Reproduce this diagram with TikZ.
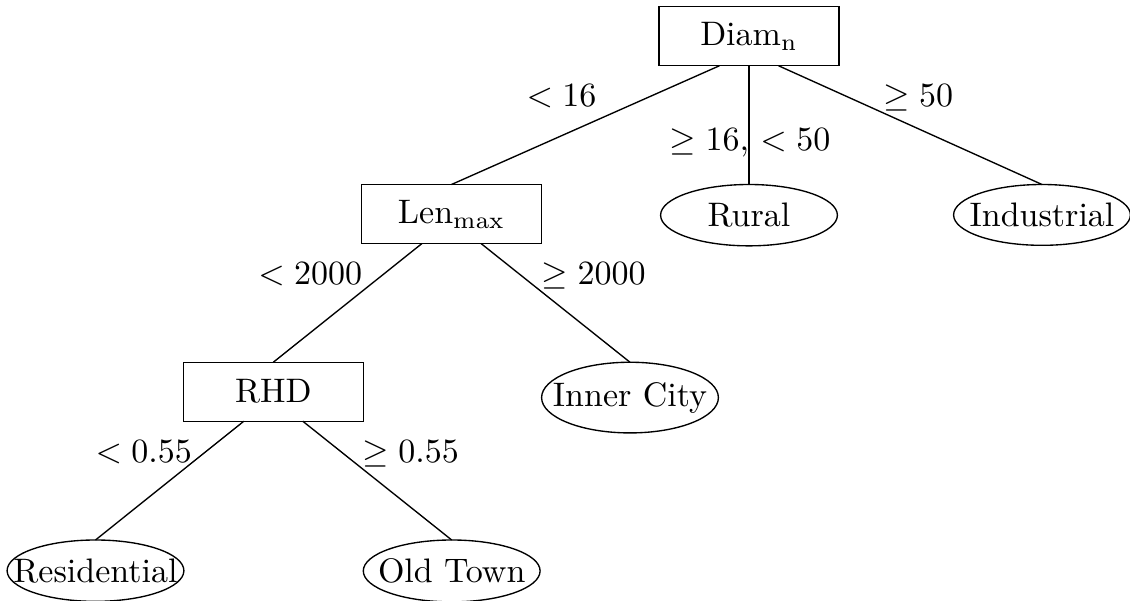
\documentclass[tikz,border=0pt]{standalone}
\usetikzlibrary{shapes.geometric}
\begin{document}
\begin{tikzpicture}[x=0.29412pt, y=-0.29412pt,
  split/.style={draw, rectangle, minimum width=52.9pt, minimum height=17.35pt,
    inner sep=0pt, outer sep=0pt, anchor=north},
  leaf/.style={draw, ellipse, minimum width=52pt, minimum height=17.6pt,
    inner xsep=-6pt, inner ysep=2.8pt, outer sep=0pt, anchor=north},
  cond/.style={anchor=base, inner sep=0pt},
  branch/.style={draw}]
\useasboundingbox (0,0) rectangle (1130,601);

% decision nodes
\node[split] (diam) at (749,6.75) {Diam$_{\mathrm{n}}$};
\node[split] (len)  at (451.5,184.5) {Len$_{\mathrm{max}}$};
\node[split] (rhd)  at (273.3,362.25) {RHD};

% leaves
\node[leaf] (rural)  at (749,184.5) {Rural};
\node[leaf] (indus)  at (1042,184.5) {Industrial};
\node[leaf] (inner)  at (630,362.25) {Inner City};
\node[leaf] (resid)  at (95.5,540) {Residential};
\node[leaf] (oldtn)  at (451.7,540) {Old Town};

% branches
\draw[branch] (diam.225) -- (len.north);
\draw[branch] (diam.south) -- (rural.north);
\draw[branch] (diam.315) -- (indus.north);
\draw[branch] (len.225) -- (rhd.north);
\draw[branch] (len.315) -- (inner.north);
\draw[branch] (rhd.225) -- (resid.north);
\draw[branch] (rhd.315) -- (oldtn.north);

% branch conditions
\node[cond] (c1) at (561.5,106.7) {$<16$};
\node[cond] (c2) at (750,150.7) {$\geq 16$, $< 50$};
\node[cond] (c3) at (918.3,106.7) {$\geq 50$};
\node[cond] (c4) at (310.3,284.3) {$<2000$};
\node[cond] (c5) at (593.8,285) {$\geq 2000$};
\node[cond] (c6) at (143.7,462.7) {$<0.55$};
\node[cond] (c7) at (410.7,463) {$\geq 0.55$};
\end{tikzpicture}
\end{document}
